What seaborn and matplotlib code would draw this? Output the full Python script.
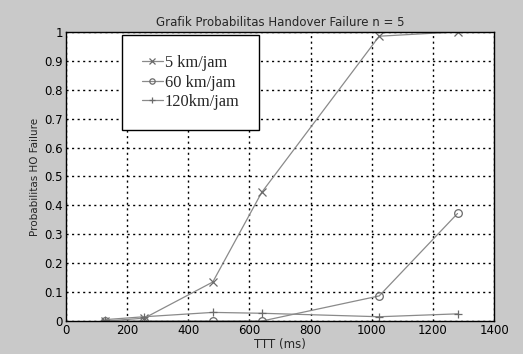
import matplotlib
matplotlib.use("Agg")
import matplotlib.pyplot as plt
import seaborn as sns
import pandas as pd

# data
ttt_ms = [128, 256, 480, 640, 1024, 1280]
speed_5 = [0.0, 0.01, 0.135, 0.445, 0.985, 1.0]
speed_60 = [0.0, 0.0, 0.0, 0.0, 0.087, 0.372]
speed_120 = [0.005, 0.015, 0.03, 0.027, 0.015, 0.025]
labels = ["5 km/jam", "60 km/jam", "120km/jam"]
markers = ["x", "o", "+"]
y_ticks = [0, 0.1, 0.2, 0.3, 0.4, 0.5, 0.6, 0.7, 0.8, 0.9, 1]
y_ticklabels = ["0", "0.1", "0.2", "0.3", "0.4", "0.5", "0.6", "0.7", "0.8", "0.9", "1"]

sns.set_style("white")
plt.rcParams["font.family"] = ["DejaVu Sans"]

df = pd.DataFrame({"ttt": ttt_ms * 3,
                   "p": speed_5 + speed_60 + speed_120,
                   "series": sum([[l] * len(ttt_ms) for l in labels], [])})

fig = plt.figure(figsize=(5.23, 3.54), dpi=100, facecolor="#c9c9c9")
ax = fig.add_axes([0.126, 0.093, 0.819, 0.817])
ax.set_facecolor("white")

for lab, mk in zip(labels, markers):
    sub = df[df["series"] == lab]
    sns.lineplot(data=sub, x="ttt", y="p", ax=ax, color="#8a8a8a", linewidth=0.9,
                 marker=mk, markersize=5.5, markerfacecolor="none",
                 markeredgecolor="#6a6a6a", markeredgewidth=0.9, label=lab)

ax.set_xlim(0, 1400)
ax.set_ylim(0, 1)
ax.set_xticks(range(0, 1401, 200))
ax.set_yticks(y_ticks)
ax.set_yticklabels(y_ticklabels)
ax.tick_params(direction="in", length=4, labelsize=8.5, colors="black", pad=2)
ax.grid(True, color="black", linestyle=(0, (1.5, 2.5)), linewidth=1.0)
for s in ax.spines.values():
    s.set_color("black")
    s.set_linewidth(1.0)
    s.set_visible(True)

ax.set_title("Grafik Probabilitas Handover Failure n = 5", fontsize=8.5, pad=4)
ax.set_xlabel("TTT (ms)", fontsize=8.5, labelpad=1)
ax.set_ylabel("Probabilitas HO Failure", fontsize=7.5, labelpad=3)

leg = ax.legend(loc="upper left", bbox_to_anchor=(0.131, 0.988), fancybox=False,
                framealpha=1, edgecolor="black", handlelength=1.3, handletextpad=0.1,
                borderpad=1.2, labelspacing=0.22, borderaxespad=0, markerscale=0.7,
                prop={"family": "Liberation Serif", "size": 11.8})
leg.get_frame().set_linewidth(1.0)

fig.savefig("out.png", dpi=100, facecolor=fig.get_facecolor())
